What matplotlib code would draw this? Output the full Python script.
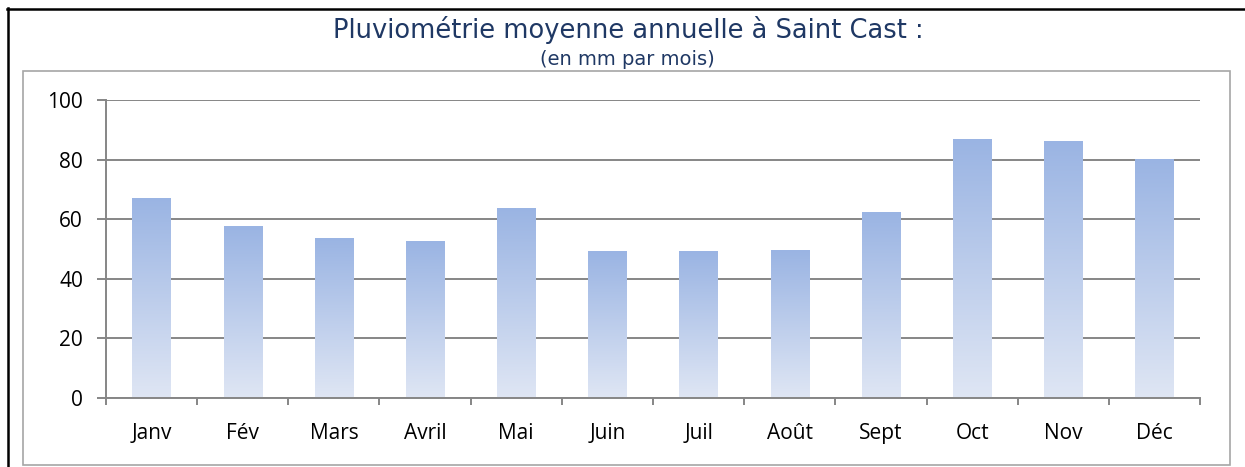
import numpy as np
import matplotlib.pyplot as plt
from matplotlib.patches import Rectangle
from matplotlib.colors import LinearSegmentedColormap
from matplotlib.lines import Line2D

months = ["Janv", "Fév", "Mars", "Avril", "Mai", "Juin",
          "Juil", "Août", "Sept", "Oct", "Nov", "Déc"]
rain_mm = [67.0, 57.6, 53.6, 52.6, 63.7, 49.2, 49.2, 49.6, 62.3, 86.8, 86.4, 80.1]
yticks = [0, 20, 40, 60, 80, 100]

title = "Pluviométrie moyenne annuelle à Saint Cast :"
subtitle = "(en mm par mois)"

W, H = 1245, 467
fig = plt.figure(figsize=(W / 100, H / 100), dpi=100)
ax = fig.add_axes([106 / W, 1 - 398 / H, (1200 - 106) / W, (398 - 100) / H])

grey = "#868686"
cmap = LinearSegmentedColormap.from_list("bar", ["#dfe6f4", "#9ab4e3"])

x = np.arange(len(months))
bars = ax.bar(x, rain_mm, width=0.42, color="none", edgecolor="none", zorder=3)
grad = np.linspace(0, 1, 256).reshape(-1, 1)
for b in bars:
    x0, w, h = b.get_x(), b.get_width(), b.get_height()
    im = ax.imshow(grad, cmap=cmap, origin="lower", aspect="auto",
                   extent=(x0, x0 + w, 0, h), zorder=3)
    im.set_clip_path(b)

ax.set_xlim(-0.5, len(months) - 0.5)
ax.set_ylim(0, 100)
ax.set_yticks(yticks)
ax.set_xticks(x)
ax.set_xticklabels(months)
ax.set_xticks(np.arange(len(months) + 1) - 0.5, minor=True)

for s in ["top", "right"]:
    ax.spines[s].set_visible(False)
for s in ["left", "bottom"]:
    ax.spines[s].set_color(grey)
    ax.spines[s].set_linewidth(1.4)
    ax.spines[s].set_zorder(4)

ax.yaxis.grid(True, color=grey, lw=1.4, zorder=1)
ax.set_axisbelow(True)

lab_font = "Open Sans"
ax.tick_params(axis="y", direction="out", length=6.5, width=1.4, color=grey,
               pad=10, labelsize=15)
ax.tick_params(axis="x", which="major", length=0, pad=18, labelsize=15)
ax.tick_params(axis="x", which="minor", direction="out", length=5, width=1.4,
               color=grey)
for t in ax.get_xticklabels() + ax.get_yticklabels():
    t.set_fontfamily(lab_font)
    t.set_color("black")

# titles
fig.text(628 / W, 1 - 30 / H, title, ha="center", va="center",
         fontsize=18.5, color="#1f3864", family="DejaVu Sans")
fig.text(627 / W, 1 - 59 / H, subtitle, ha="center", va="center",
         fontsize=14, color="#1f3864", family="DejaVu Sans")

# chart frame (grey) and outer black border
fig.add_artist(Rectangle((23 / W, 1 - 465 / H), (1230 - 23) / W, (465 - 71) / H,
                         transform=fig.transFigure, fill=False,
                         edgecolor="#a6a6a6", lw=1.2))
fig.add_artist(Line2D([7.5 / W, 7.5 / W], [0, 1 - 8 / H],
                      transform=fig.transFigure, color="black", lw=1.8))
fig.add_artist(Line2D([7 / W, 1], [1 - 8.5 / H, 1 - 8.5 / H],
                      transform=fig.transFigure, color="black", lw=1.8))

fig.savefig("out.png", dpi=100)
